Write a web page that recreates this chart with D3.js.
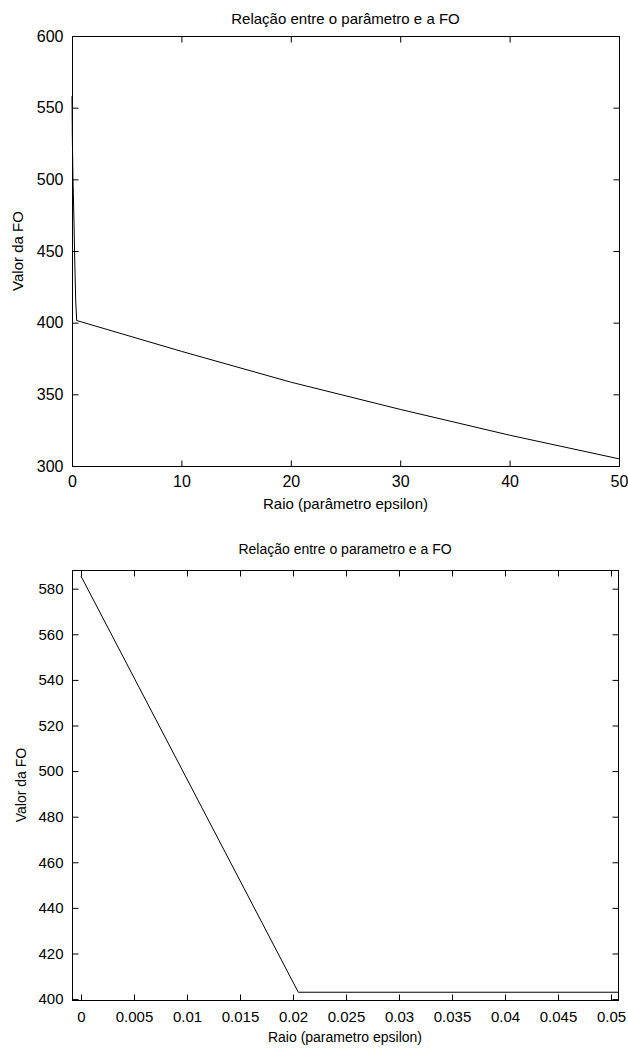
<!DOCTYPE html>
<html>
<head>
<meta charset="utf-8">
<script src="https://cdn.jsdelivr.net/npm/d3@7"></script>
<style>
  body { margin: 0; background: #fff; }
  svg { display: block; }
  text { fill: #000; }
</style>
</head>
<body>
<svg id="chart" width="628" height="1048"></svg>
<script>
// top chart: FO vs epsilon (0..50)
const topX = [0, 0.03, 0.09, 0.18, 0.25, 0.34, 0.43, 10, 20, 30, 40, 50];
const topY = [558, 530, 500, 471, 443, 415, 401.5, 380, 358.5, 339.5, 321.5, 305];
const topXTicks = [0, 10, 20, 30, 40, 50];
const topYTicks = [300, 350, 400, 450, 500, 550, 600];

// bottom chart: zoom on small epsilon
const botX = [0, 0.0205, 0.0507];
const botY = [585.5, 403, 403];
const botXTicks = [0, 0.005, 0.01, 0.015, 0.02, 0.025, 0.03, 0.035, 0.04, 0.045, 0.05];
const botYTicks = [400, 420, 440, 460, 480, 500, 520, 540, 560, 580];

const svg = d3.select("#chart");

const drawChart = (cfg) => {
  const x = d3.scaleLinear().domain(cfg.xDomain).range([cfg.left, cfg.right]);
  const y = d3.scaleLinear().domain(cfg.yDomain).range([cfg.bottom, cfg.top]);

  const g = svg.append("g")
    .attr("font-family", cfg.font)
    .attr("font-size", cfg.fontSize);

  // frame
  g.append("rect")
    .attr("x", cfg.left + 0.5)
    .attr("y", cfg.top + 0.5)
    .attr("width", cfg.right - cfg.left)
    .attr("height", cfg.bottom - cfg.top)
    .attr("fill", "none")
    .attr("stroke", "#000");

  const tick = 6;
  const axes = [
    { axis: d3.axisBottom(x).tickValues(cfg.xTicks).tickFormat(cfg.xFormat), t: `translate(0,${cfg.bottom + 0.5})`, pad: cfg.xPad },
    { axis: d3.axisTop(x).tickValues(cfg.xTicks).tickFormat(""), t: `translate(0,${cfg.top + 0.5})`, pad: 0 },
    { axis: d3.axisLeft(y).tickValues(cfg.yTicks).tickFormat(d3.format("d")), t: `translate(${cfg.left + 0.5},0)`, pad: cfg.yPad },
    { axis: d3.axisRight(y).tickValues(cfg.yTicks).tickFormat(""), t: `translate(${cfg.right + 0.5},0)`, pad: 0 }
  ];
  axes.forEach(a => {
    const ag = g.append("g")
      .attr("transform", a.t)
      .call(a.axis.tickSizeInner(-tick).tickSizeOuter(0).tickPadding(tick + a.pad))
      .attr("font-family", null)
      .attr("font-size", null);
    ag.select(".domain").remove();
    ag.selectAll(".tick line").attr("stroke", "#000");
    ag.selectAll(".tick text").attr("fill", "#000").attr("font-size", cfg.tickSize);
  });

  const line = d3.line().x(d => x(d[0])).y(d => y(d[1]));
  g.append("path")
    .datum(cfg.xs.map((v, i) => [v, cfg.ys[i]]))
    .attr("d", line)
    .attr("fill", "none")
    .attr("stroke", "#000")
    .attr("stroke-width", 1);

  g.append("text")
    .text(cfg.title)
    .attr("x", (cfg.left + cfg.right) / 2)
    .attr("y", cfg.titleY)
    .attr("text-anchor", "middle");

  g.append("text")
    .text(cfg.xLabel)
    .attr("x", (cfg.left + cfg.right) / 2)
    .attr("y", cfg.xLabelY)
    .attr("text-anchor", "middle");

  g.append("text")
    .text(cfg.yLabel)
    .attr("transform", `translate(${cfg.yLabelX},${(cfg.top + cfg.bottom) / 2}) rotate(-90)`)
    .attr("text-anchor", "middle");
};

drawChart({
  xs: topX, ys: topY,
  xDomain: [0, 50], yDomain: [300, 600],
  xTicks: topXTicks, yTicks: topYTicks,
  xFormat: d3.format("d"),
  left: 72, right: 619, top: 36, bottom: 466,
  font: "'Liberation Sans', Arial, sans-serif", fontSize: 15, tickSize: 16,
  xPad: 3, yPad: 3,
  title: "Relação entre o parâmetro e a FO", titleY: 24,
  xLabel: "Raio (parâmetro epsilon)", xLabelY: 509,
  yLabel: "Valor da FO", yLabelX: 23
});

drawChart({
  xs: botX, ys: botY,
  xDomain: [-0.00085, 0.05066], yDomain: [399.6, 588.2],
  xTicks: botXTicks, yTicks: botYTicks,
  xFormat: d => String(+d.toFixed(3)),
  left: 72, right: 618, top: 570, bottom: 1000,
  font: "'Liberation Sans', Arial, sans-serif", fontSize: 14, tickSize: 15,
  xPad: 5, yPad: 3,
  title: "Relação entre o parametro e a FO", titleY: 554,
  xLabel: "Raio (parametro epsilon)", xLabelY: 1042,
  yLabel: "Valor da FO", yLabelX: 26
});
</script>
</body>
</html>
